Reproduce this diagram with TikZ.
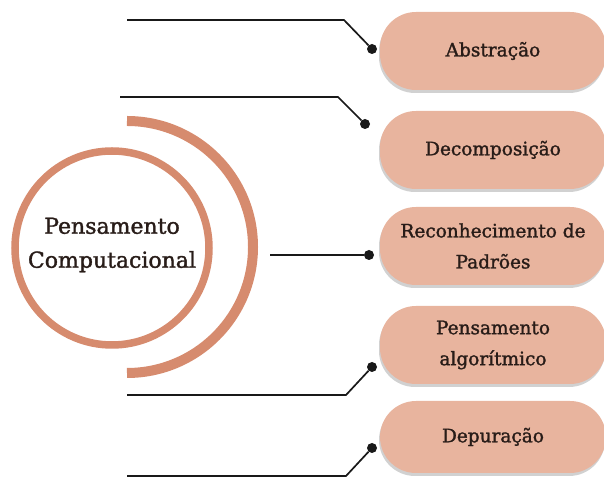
\documentclass[tikz,border=0pt]{standalone}
\usepackage{fontspec}
\setmainfont{DejaVu Serif}
\newfontfamily\labelfont{DejaVu Serif}[FakeBold=1.5]
\usetikzlibrary{shadows, positioning}
\definecolor{peach}{RGB}{232,180,158}
\definecolor{rust}{RGB}{214,139,110}
\definecolor{ink}{RGB}{40,28,24}
\tikzset{
  topic/.style={rectangle, rounded corners=36pt, fill=peach, minimum width=226pt,
    minimum height=78pt, align=center, text=ink, font=\labelfont\fontsize{18.5}{31}\selectfont,
    drop shadow={shadow xshift=-1pt, shadow yshift=-3pt, opacity=0.3, fill=black!60}},
  link/.style={draw=black!90, line width=1.7pt},
  linkdot/.style={circle, fill=black!90, inner sep=0pt, minimum size=10pt},
}

\begin{document}
\begin{tikzpicture}[x=1pt, y=1pt]
  \useasboundingbox (0,0) rectangle (604,481);

  % Rings
  \draw[rust, line width=7.5pt] (112,233) circle (97pt);
  \draw[rust, line width=10pt] (127,360) arc[start angle=90, end angle=-90, radius=126pt];
  \node[align=center, text=ink, font=\labelfont\fontsize{22}{34}\selectfont] (pc) at (112,236) {Pensamento\\Computacional};

  % Topics
  \node[topic] (abs) at (493,430) {Abstração};
  \node[topic] (dec) at (493,331) {Decomposição};
  \node[topic] (rec) at (493,235) {Reconhecimento de\\Padrões};
  \node[topic] (alg) at (493,136) {Pensamento\\algorítmico};
  \node[topic, minimum height=72pt] (dep) at (493,44) {Depuração};

  % Dots
  \node[linkdot] (d1) at (372,432) {};
  \node[linkdot] (d2) at (365,357) {};
  \node[linkdot] (d3) at (369,226) {};
  \node[linkdot] (d4) at (372,114) {};
  \node[linkdot] (d5) at (372,33) {};

  % Line ends and knees
  \coordinate (s1) at (127,461);  \coordinate (k1) at (344,461);
  \coordinate (s2) at (120,384);  \coordinate (k2) at (338,384);
  \coordinate (s3) at (270,226);
  \coordinate (s4) at (127,86);   \coordinate (k4) at (346,86);
  \coordinate (s5) at (127,5);    \coordinate (k5) at (346,5);

  % Connectors
  \draw[link] (s1) -- (k1) -- (d1);
  \draw[link] (s2) -- (k2) -- (d2);
  \draw[link] (s3) -- (d3);
  \draw[link] (s4) -- (k4) -- (d4);
  \draw[link] (s5) -- (k5) -- (d5);
\end{tikzpicture}
\end{document}
